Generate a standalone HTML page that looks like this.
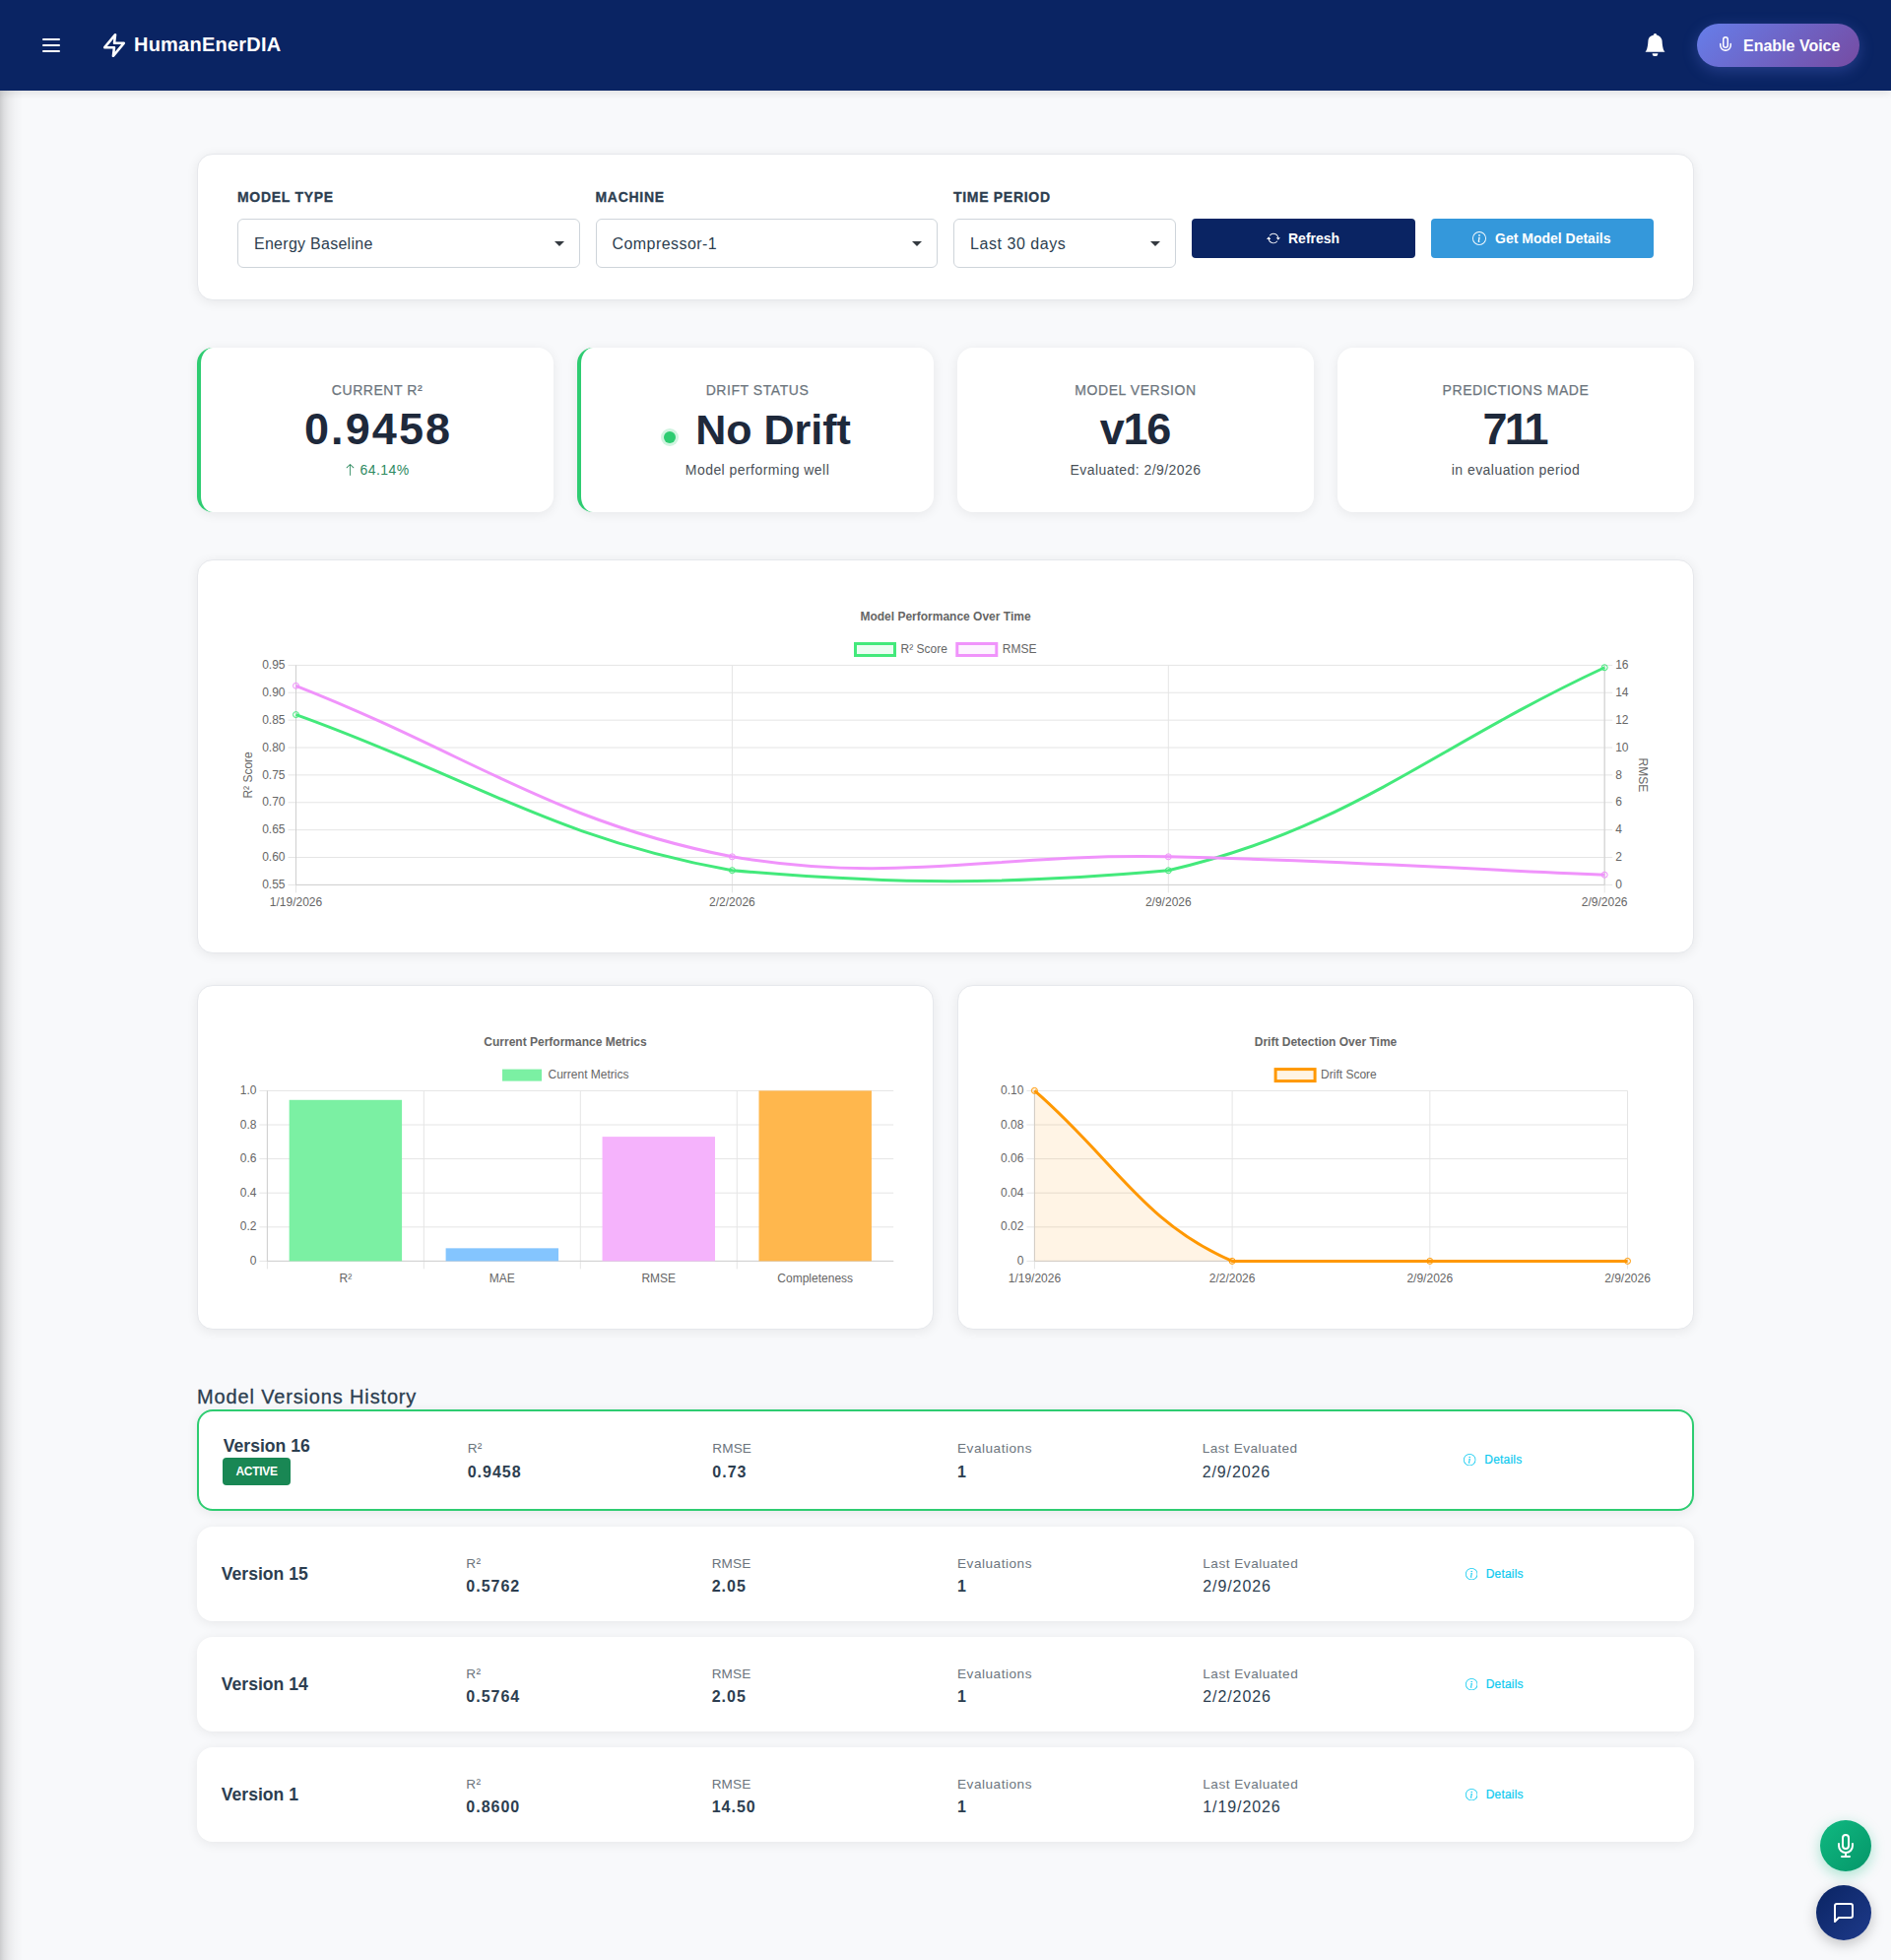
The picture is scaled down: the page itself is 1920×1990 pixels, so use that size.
<!DOCTYPE html>
<html lang="en">
<head>
<meta charset="utf-8">
<title>HumanEnerDIA - Model Performance</title>
<style>
*{box-sizing:border-box;margin:0;padding:0}
html,body{width:1920px;height:1990px;overflow:hidden}
body{position:relative;background:#f8f9fb;font-family:"Liberation Sans",Arial,sans-serif;color:#2c3e50;-webkit-font-smoothing:antialiased}
.abs{position:absolute}
.nw{white-space:nowrap}
/* header */
header{position:absolute;left:0;top:0;width:1920px;height:92px;background:#0a2463;box-shadow:0 2px 8px rgba(0,0,0,.11);z-index:5}
.edge{position:absolute;left:0;top:92px;width:24px;height:1898px;background:linear-gradient(90deg,rgba(0,0,0,.18) 0,rgba(0,0,0,.11) 4px,rgba(0,0,0,.06) 9px,rgba(0,0,0,.025) 15px,rgba(0,0,0,0) 23px)}
.burger{position:absolute;left:43px;top:39px;width:18px;height:14px}
.burger i{position:absolute;left:0;width:18px;height:2px;background:#fff;border-radius:1px}
.brand{position:absolute;left:136px;top:29.4px;height:32px;line-height:32px;font-size:20px;font-weight:700;color:#fff;letter-spacing:.22px}
.voice{position:absolute;left:1723px;top:24px;width:165px;height:44px;border-radius:22px;background:linear-gradient(135deg,#667eea 0%,#764ba2 100%);box-shadow:0 4px 15px rgba(102,126,234,.3);color:#fff;font-size:16px;font-weight:600}
.voice span{position:absolute;left:47px;top:.8px;line-height:44px}
/* cards */
.card{position:absolute;background:#fff;border-radius:16px;box-shadow:0 2px 12px rgba(0,0,0,.075)}
.bd{border:1px solid #e6e8ec}
.flabel{position:absolute;top:190px;font-size:14px;font-weight:700;letter-spacing:.7px;line-height:20px;color:#2c3e50;-webkit-text-stroke:.3px #2c3e50}
.sel{position:absolute;top:222px;height:50px;border:1px solid #ced4da;border-radius:6px;background:#fff;font-size:16px;line-height:50px;padding-left:16px;color:#2c3e50;letter-spacing:.27px}
.sel:after{content:"";position:absolute;right:15px;top:22px;border-left:5.5px solid transparent;border-right:5.5px solid transparent;border-top:5.5px solid #343a40}
.btn{position:absolute;top:222px;height:40px;border-radius:4px;color:#fff;font-size:14px;font-weight:600;line-height:40px}
.btn svg{position:absolute;top:13px}
.btn span{position:absolute;top:0}
/* stats */
.stat{top:353px;width:362px;height:167px;text-align:center}
.stat.g{border-left:4px solid #2ecc71}
.stat .l{position:absolute;left:0;right:0;top:32.8px;font-size:14px;line-height:20px;color:#6c757d;letter-spacing:.55px;-webkit-text-stroke:.25px #6c757d}
.stat .v{position:absolute;left:0;right:0;top:55.6px;font-size:43px;line-height:54px;font-weight:700;color:#1e293b}
.stat .s{position:absolute;left:0;right:0;top:114.3px;font-size:14px;line-height:20px;color:#495057;letter-spacing:.45px}
svg.chart{position:absolute;overflow:visible}
/* versions */
.h5{position:absolute;left:200px;top:1402.7px;font-size:20px;line-height:30px;font-weight:400;color:#2c3e50;letter-spacing:.85px;-webkit-text-stroke:.3px #2c3e50}
.row{left:200px;width:1520px;height:96px}
.row.act{border:2px solid #2ecc71;height:103px}
.vn{position:absolute;font-size:17.6px;font-weight:600;line-height:22px;color:#2c3e50}
.ml{position:absolute;font-size:13.6px;line-height:18px;color:#6c757d;letter-spacing:.25px}
.mv{position:absolute;font-size:16px;line-height:20px;font-weight:700;color:#2c3e50;letter-spacing:1px}
.mv.d{font-weight:400;letter-spacing:.9px}
.badge{position:absolute;background:#198754;color:#fff;font-size:12px;font-weight:700;border-radius:4px;text-align:center;letter-spacing:-.3px}
.det{position:absolute;color:#0dcaf0;font-size:12px;line-height:16px;font-weight:400;letter-spacing:.2px;-webkit-text-stroke:.2px #0dcaf0}
.det svg{position:absolute;left:0;top:2px}
.det span{position:absolute;left:21px;top:0}
.fab{position:absolute;border-radius:50%}
</style>
</head>
<body>
<header>
  <div class="burger"><i style="top:0"></i><i style="top:6px"></i><i style="top:12px"></i></div>
  <svg class="abs" style="left:103px;top:33px" width="26" height="26" viewBox="0 0 24 24" fill="none" stroke="#fff" stroke-width="2.35" stroke-linecap="round" stroke-linejoin="round"><polygon points="13 2 3 14 12 14 11 22 21 10 12 10 13 2"/></svg>
  <div class="brand nw">HumanEnerDIA</div>
  <svg class="abs" style="left:1669px;top:33.5px" width="23" height="23" viewBox="0 0 16 16" fill="#fff"><path d="M8 16a2 2 0 0 0 2-2H6a2 2 0 0 0 2 2zm.995-14.901a1 1 0 1 0-1.99 0A5.002 5.002 0 0 0 3 6c0 1.098-.5 6-2 7h14c-1.5-1-2-5.902-2-7 0-2.42-1.72-4.44-4.005-4.901z"/></svg>
  <div class="voice nw">
    <svg class="abs" style="left:19.5px;top:13px" width="18" height="15" viewBox="0 0 24 20" fill="none" stroke="#fff" stroke-width="2" stroke-linecap="round" stroke-linejoin="round"><path d="M12 1a3 3 0 0 0-3 3v8a3 3 0 0 0 6 0V4a3 3 0 0 0-3-3z"/><path d="M19 10v2a7 7 0 0 1-14 0v-2"/><path d="M12 19v4M8 23h8"/></svg>
    <span>Enable Voice</span>
  </div>
</header>
<div class="edge"></div>

<main>
<section class="card bd" style="left:200px;top:156px;width:1520px;height:149px"></section>
<div class="flabel nw" style="left:241px">MODEL TYPE</div>
<div class="flabel nw" style="left:604.5px">MACHINE</div>
<div class="flabel nw" style="left:968px">TIME PERIOD</div>
<div class="sel nw" style="left:241px;width:347.5px">Energy Baseline</div>
<div class="sel nw" style="left:604.5px;width:347.5px;letter-spacing:.44px">Compressor-1</div>
<div class="sel nw" style="left:968px;width:226px;letter-spacing:.55px">Last 30 days</div>
<div class="btn nw" style="left:1210px;width:227px;background:#0a2463">
  <svg style="left:76px" width="14" height="14" viewBox="0 0 16 16" fill="#fff"><path d="M11.534 7h3.932a.25.25 0 0 1 .192.41l-1.966 2.36a.25.25 0 0 1-.384 0l-1.966-2.36a.25.25 0 0 1 .192-.41zm-11 2h3.932a.25.25 0 0 0 .192-.41L2.692 6.23a.25.25 0 0 0-.384 0L.342 8.59A.25.25 0 0 0 .534 9z"/><path fill-rule="evenodd" d="M8 3c-1.552 0-2.94.707-3.857 1.818a.5.5 0 1 1-.771-.636A6.002 6.002 0 0 1 13.917 7H12.9A5.002 5.002 0 0 0 8 3zM3.1 9a5.002 5.002 0 0 0 8.757 2.182.5.5 0 1 1 .771.636A6.002 6.002 0 0 1 2.083 9H3.1z"/></svg>
  <span style="left:98px">Refresh</span>
</div>
<div class="btn nw" style="left:1453px;width:226px;background:#3498db">
  <svg style="left:42px" width="14" height="14" viewBox="0 0 16 16" fill="#fff"><path d="M8 15A7 7 0 1 1 8 1a7 7 0 0 1 0 14zm0 1A8 8 0 1 0 8 0a8 8 0 0 0 0 16z"/><path d="m8.93 6.588-2.29.287-.082.38.45.083c.294.07.352.176.288.469l-.738 3.468c-.194.897.105 1.319.808 1.319.545 0 1.178-.252 1.465-.598l.088-.416c-.2.176-.492.246-.686.246-.275 0-.375-.193-.304-.533L8.93 6.588zM9 4.500a1 1 0 1 1-2 0 1 1 0 0 1 2 0z"/></svg>
  <span style="left:65px">Get Model Details</span>
</div>

<section class="card stat g" style="left:200px">
  <div class="l nw">CURRENT R²</div>
  <div class="v nw" style="font-size:45px;letter-spacing:2.1px;text-indent:2.1px">0.9458</div>
  <div class="s nw" style="color:#2d8a5f"><svg style="vertical-align:-1px;margin-right:4px" width="11" height="12" viewBox="2.5 1 11 14" fill="#2d8a5f"><path fill-rule="evenodd" d="M8 15a.5.5 0 0 0 .5-.5V2.707l3.146 3.147a.5.5 0 0 0 .708-.708l-4-4a.5.5 0 0 0-.708 0l-4 4a.5.5 0 1 0 .708.708L7.5 2.707V14.5a.5.5 0 0 0 .5.5z"/></svg>64.14%</div>
</section>
<section class="card stat g" style="left:586px">
  <div class="l nw">DRIFT STATUS</div>
  <div class="v nw"><i style="display:inline-block;width:12px;height:12px;border-radius:50%;background:#2ecc71;box-shadow:0 0 0 3px rgba(46,204,113,.22);margin-right:20px;vertical-align:1px"></i>No Drift</div>
  <div class="s nw">Model performing well</div>
</section>
<section class="card stat" style="left:972px">
  <div class="l nw">MODEL VERSION</div>
  <div class="v nw" style="font-size:45px;letter-spacing:-1.2px;text-indent:-1.2px">v16</div>
  <div class="s nw">Evaluated: 2/9/2026</div>
</section>
<section class="card stat" style="left:1358px">
  <div class="l nw">PREDICTIONS MADE</div>
  <div class="v nw" style="font-size:45px;letter-spacing:-2.7px;text-indent:-2.7px">711</div>
  <div class="s nw">in evaluation period</div>
</section>

<section class="card bd" style="left:200px;top:568px;width:1520px;height:400px"></section>
<section class="card bd" style="left:200px;top:1000px;width:748px;height:350px"></section>
<section class="card bd" style="left:972px;top:1000px;width:748px;height:350px"></section>
<svg class="chart" style="left:241px;top:608px" width="1438" height="320" viewBox="241 608 1438 320">
<g font-family="Liberation Sans, Arial, sans-serif" font-size="12" fill="#666">
<text x="960.00" y="630.00" text-anchor="middle" font-weight="bold" >Model Performance Over Time</text>
<rect x="868.5" y="653.5" width="40" height="12" fill="rgba(67,233,123,0.1)" stroke="#43e97b" stroke-width="3"/>
<text x="914.50" y="662.90" text-anchor="start" font-weight="normal" >R² Score</text>
<rect x="971.8" y="653.5" width="40" height="12" fill="rgba(240,147,251,0.1)" stroke="#f093fb" stroke-width="3"/>
<text x="1017.80" y="662.90" text-anchor="start" font-weight="normal" >RMSE</text>
<line x1="292.50" x2="1637.20" y1="898.40" y2="898.40" stroke="#e5e5e5" stroke-width="1"/>
<text x="289.50" y="902.00" text-anchor="end" font-weight="normal" >0.55</text>
<text x="1640.20" y="902.00" text-anchor="start" font-weight="normal" >0</text>
<line x1="292.50" x2="1637.20" y1="870.52" y2="870.52" stroke="#e5e5e5" stroke-width="1"/>
<text x="289.50" y="874.12" text-anchor="end" font-weight="normal" >0.60</text>
<text x="1640.20" y="874.12" text-anchor="start" font-weight="normal" >2</text>
<line x1="292.50" x2="1637.20" y1="842.65" y2="842.65" stroke="#e5e5e5" stroke-width="1"/>
<text x="289.50" y="846.25" text-anchor="end" font-weight="normal" >0.65</text>
<text x="1640.20" y="846.25" text-anchor="start" font-weight="normal" >4</text>
<line x1="292.50" x2="1637.20" y1="814.77" y2="814.77" stroke="#e5e5e5" stroke-width="1"/>
<text x="289.50" y="818.38" text-anchor="end" font-weight="normal" >0.70</text>
<text x="1640.20" y="818.38" text-anchor="start" font-weight="normal" >6</text>
<line x1="292.50" x2="1637.20" y1="786.90" y2="786.90" stroke="#e5e5e5" stroke-width="1"/>
<text x="289.50" y="790.50" text-anchor="end" font-weight="normal" >0.75</text>
<text x="1640.20" y="790.50" text-anchor="start" font-weight="normal" >8</text>
<line x1="292.50" x2="1637.20" y1="759.02" y2="759.02" stroke="#e5e5e5" stroke-width="1"/>
<text x="289.50" y="762.62" text-anchor="end" font-weight="normal" >0.80</text>
<text x="1640.20" y="762.62" text-anchor="start" font-weight="normal" >10</text>
<line x1="292.50" x2="1637.20" y1="731.15" y2="731.15" stroke="#e5e5e5" stroke-width="1"/>
<text x="289.50" y="734.75" text-anchor="end" font-weight="normal" >0.85</text>
<text x="1640.20" y="734.75" text-anchor="start" font-weight="normal" >12</text>
<line x1="292.50" x2="1637.20" y1="703.27" y2="703.27" stroke="#e5e5e5" stroke-width="1"/>
<text x="289.50" y="706.88" text-anchor="end" font-weight="normal" >0.90</text>
<text x="1640.20" y="706.88" text-anchor="start" font-weight="normal" >14</text>
<line x1="292.50" x2="1637.20" y1="675.40" y2="675.40" stroke="#e5e5e5" stroke-width="1"/>
<text x="289.50" y="679.00" text-anchor="end" font-weight="normal" >0.95</text>
<text x="1640.20" y="679.00" text-anchor="start" font-weight="normal" >16</text>
<line x1="300.50" x2="300.50" y1="675.40" y2="906.40" stroke="#e5e5e5" stroke-width="1"/>
<text x="300.50" y="920.00" text-anchor="middle" font-weight="normal" >1/19/2026</text>
<line x1="743.40" x2="743.40" y1="675.40" y2="906.40" stroke="#e5e5e5" stroke-width="1"/>
<text x="743.40" y="920.00" text-anchor="middle" font-weight="normal" >2/2/2026</text>
<line x1="1186.30" x2="1186.30" y1="675.40" y2="906.40" stroke="#e5e5e5" stroke-width="1"/>
<text x="1186.30" y="920.00" text-anchor="middle" font-weight="normal" >2/9/2026</text>
<line x1="1629.20" x2="1629.20" y1="675.40" y2="906.40" stroke="#e5e5e5" stroke-width="1"/>
<text x="1629.20" y="920.00" text-anchor="middle" font-weight="normal" >2/9/2026</text>
<line x1="300.50" x2="300.50" y1="675.40" y2="898.40" stroke="#cfcfcf" stroke-width="1"/>
<line x1="1629.20" x2="1629.20" y1="675.40" y2="898.40" stroke="#cfcfcf" stroke-width="1"/>
<line x1="300.50" x2="1629.20" y1="898.40" y2="898.40" stroke="#cfcfcf" stroke-width="1"/>
<text transform="translate(255.8,786.9) rotate(-90)" text-anchor="middle">R² Score</text>
<text transform="translate(1664.2,786.9) rotate(90)" text-anchor="middle">RMSE</text>
</g>
<path d="M300.50,725.58 C477.66,788.82 560.93,851.09 743.40,883.68 C915.25,898.40 1017.81,898.40 1186.30,883.79 C1372.13,840.59 1452.04,760.16 1629.20,677.74" fill="none" stroke="#43e97b" stroke-width="3"/>
<path d="M300.50,696.31 C477.66,765.72 559.92,833.89 743.40,869.83 C914.24,898.40 1009.22,866.15 1186.30,869.83 C1363.54,873.51 1452.04,880.87 1629.20,888.23" fill="none" stroke="#f093fb" stroke-width="3"/>
<circle cx="300.50" cy="725.58" r="3" fill="rgba(67,233,123,0.1)" stroke="#43e97b" stroke-width="1"/>
<circle cx="743.40" cy="883.68" r="3" fill="rgba(67,233,123,0.1)" stroke="#43e97b" stroke-width="1"/>
<circle cx="1186.30" cy="883.79" r="3" fill="rgba(67,233,123,0.1)" stroke="#43e97b" stroke-width="1"/>
<circle cx="1629.20" cy="677.74" r="3" fill="rgba(67,233,123,0.1)" stroke="#43e97b" stroke-width="1"/>
<circle cx="300.50" cy="696.31" r="3" fill="rgba(240,147,251,0.1)" stroke="#f093fb" stroke-width="1"/>
<circle cx="743.40" cy="869.83" r="3" fill="rgba(240,147,251,0.1)" stroke="#f093fb" stroke-width="1"/>
<circle cx="1186.30" cy="869.83" r="3" fill="rgba(240,147,251,0.1)" stroke="#f093fb" stroke-width="1"/>
<circle cx="1629.20" cy="888.23" r="3" fill="rgba(240,147,251,0.1)" stroke="#f093fb" stroke-width="1"/>
</svg>
<svg class="chart" style="left:241px;top:1040px" width="667" height="310" viewBox="241 1040 667 310">
<g font-family="Liberation Sans, Arial, sans-serif" font-size="12" fill="#666">
<text x="574.00" y="1062.30" text-anchor="middle" font-weight="bold" >Current Performance Metrics</text>
<rect x="510" y="1085.6" width="40" height="12" fill="rgb(123,240,163)"/>
<text x="556.50" y="1095.10" text-anchor="start" font-weight="normal" >Current Metrics</text>
<line x1="263.40" x2="907.20" y1="1280.40" y2="1280.40" stroke="#e5e5e5" stroke-width="1"/>
<text x="260.40" y="1284.00" text-anchor="end" font-weight="normal" >0</text>
<line x1="263.40" x2="907.20" y1="1245.80" y2="1245.80" stroke="#e5e5e5" stroke-width="1"/>
<text x="260.40" y="1249.40" text-anchor="end" font-weight="normal" >0.2</text>
<line x1="263.40" x2="907.20" y1="1211.20" y2="1211.20" stroke="#e5e5e5" stroke-width="1"/>
<text x="260.40" y="1214.80" text-anchor="end" font-weight="normal" >0.4</text>
<line x1="263.40" x2="907.20" y1="1176.60" y2="1176.60" stroke="#e5e5e5" stroke-width="1"/>
<text x="260.40" y="1180.20" text-anchor="end" font-weight="normal" >0.6</text>
<line x1="263.40" x2="907.20" y1="1142.00" y2="1142.00" stroke="#e5e5e5" stroke-width="1"/>
<text x="260.40" y="1145.60" text-anchor="end" font-weight="normal" >0.8</text>
<line x1="263.40" x2="907.20" y1="1107.40" y2="1107.40" stroke="#e5e5e5" stroke-width="1"/>
<text x="260.40" y="1111.00" text-anchor="end" font-weight="normal" >1.0</text>
<line x1="271.40" x2="271.40" y1="1107.40" y2="1288.40" stroke="#e5e5e5" stroke-width="1"/>
<line x1="430.35" x2="430.35" y1="1107.40" y2="1288.40" stroke="#e5e5e5" stroke-width="1"/>
<line x1="589.30" x2="589.30" y1="1107.40" y2="1288.40" stroke="#e5e5e5" stroke-width="1"/>
<line x1="748.25" x2="748.25" y1="1107.40" y2="1288.40" stroke="#e5e5e5" stroke-width="1"/>
<line x1="271.40" x2="271.40" y1="1107.40" y2="1280.40" stroke="#cfcfcf" stroke-width="1"/>
<line x1="271.40" x2="907.20" y1="1280.40" y2="1280.40" stroke="#cfcfcf" stroke-width="1"/>
<rect x="293.65" y="1116.78" width="114.44" height="163.62" fill="rgb(123,240,163)"/>
<text x="350.88" y="1302.00" text-anchor="middle" font-weight="normal" >R²</text>
<rect x="452.60" y="1267.34" width="114.44" height="13.06" fill="rgb(132,197,254)"/>
<text x="509.82" y="1302.00" text-anchor="middle" font-weight="normal" >MAE</text>
<rect x="611.55" y="1154.11" width="114.44" height="126.29" fill="rgb(245,179,252)"/>
<text x="668.78" y="1302.00" text-anchor="middle" font-weight="normal" >RMSE</text>
<rect x="770.50" y="1107.40" width="114.44" height="173.00" fill="rgb(255,183,77)"/>
<text x="827.73" y="1302.00" text-anchor="middle" font-weight="normal" >Completeness</text>
</g></svg>
<svg class="chart" style="left:1013px;top:1040px" width="667" height="310" viewBox="1013 1040 667 310">
<g font-family="Liberation Sans, Arial, sans-serif" font-size="12" fill="#666">
<text x="1346.00" y="1062.30" text-anchor="middle" font-weight="bold" >Drift Detection Over Time</text>
<rect x="1295.1" y="1085.6" width="40" height="12" fill="rgba(255,152,0,0.1)" stroke="#ff9800" stroke-width="3"/>
<text x="1341.10" y="1095.10" text-anchor="start" font-weight="normal" >Drift Score</text>
<line x1="1042.40" x2="1652.50" y1="1280.40" y2="1280.40" stroke="#e5e5e5" stroke-width="1"/>
<text x="1039.40" y="1284.00" text-anchor="end" font-weight="normal" >0</text>
<line x1="1042.40" x2="1652.50" y1="1245.80" y2="1245.80" stroke="#e5e5e5" stroke-width="1"/>
<text x="1039.40" y="1249.40" text-anchor="end" font-weight="normal" >0.02</text>
<line x1="1042.40" x2="1652.50" y1="1211.20" y2="1211.20" stroke="#e5e5e5" stroke-width="1"/>
<text x="1039.40" y="1214.80" text-anchor="end" font-weight="normal" >0.04</text>
<line x1="1042.40" x2="1652.50" y1="1176.60" y2="1176.60" stroke="#e5e5e5" stroke-width="1"/>
<text x="1039.40" y="1180.20" text-anchor="end" font-weight="normal" >0.06</text>
<line x1="1042.40" x2="1652.50" y1="1142.00" y2="1142.00" stroke="#e5e5e5" stroke-width="1"/>
<text x="1039.40" y="1145.60" text-anchor="end" font-weight="normal" >0.08</text>
<line x1="1042.40" x2="1652.50" y1="1107.40" y2="1107.40" stroke="#e5e5e5" stroke-width="1"/>
<text x="1039.40" y="1111.00" text-anchor="end" font-weight="normal" >0.10</text>
<line x1="1050.40" x2="1050.40" y1="1107.40" y2="1288.40" stroke="#e5e5e5" stroke-width="1"/>
<text x="1050.40" y="1302.00" text-anchor="middle" font-weight="normal" >1/19/2026</text>
<line x1="1251.10" x2="1251.10" y1="1107.40" y2="1288.40" stroke="#e5e5e5" stroke-width="1"/>
<text x="1251.10" y="1302.00" text-anchor="middle" font-weight="normal" >2/2/2026</text>
<line x1="1451.80" x2="1451.80" y1="1107.40" y2="1288.40" stroke="#e5e5e5" stroke-width="1"/>
<text x="1451.80" y="1302.00" text-anchor="middle" font-weight="normal" >2/9/2026</text>
<line x1="1652.50" x2="1652.50" y1="1107.40" y2="1288.40" stroke="#e5e5e5" stroke-width="1"/>
<text x="1652.50" y="1302.00" text-anchor="middle" font-weight="normal" >2/9/2026</text>
<line x1="1050.40" x2="1050.40" y1="1107.40" y2="1280.40" stroke="#cfcfcf" stroke-width="1"/>
<line x1="1050.40" x2="1652.50" y1="1280.40" y2="1280.40" stroke="#cfcfcf" stroke-width="1"/>
</g>
<path d="M1050.40,1107.40 C1130.68,1176.60 1159.74,1241.02 1251.10,1280.40 C1320.30,1280.40 1371.52,1280.40 1451.80,1280.40 C1532.08,1280.40 1572.22,1280.40 1652.50,1280.40 L1652.50,1280.40 L1050.40,1280.40 Z" fill="rgba(255,152,0,0.1)"/>
<path d="M1050.40,1107.40 C1130.68,1176.60 1159.74,1241.02 1251.10,1280.40 C1320.30,1280.40 1371.52,1280.40 1451.80,1280.40 C1532.08,1280.40 1572.22,1280.40 1652.50,1280.40" fill="none" stroke="#ff9800" stroke-width="3"/>
<circle cx="1050.40" cy="1107.40" r="3" fill="rgba(255,152,0,0.1)" stroke="#ff9800" stroke-width="1"/>
<circle cx="1251.10" cy="1280.40" r="3" fill="rgba(255,152,0,0.1)" stroke="#ff9800" stroke-width="1"/>
<circle cx="1451.80" cy="1280.40" r="3" fill="rgba(255,152,0,0.1)" stroke="#ff9800" stroke-width="1"/>
<circle cx="1652.50" cy="1280.40" r="3" fill="rgba(255,152,0,0.1)" stroke="#ff9800" stroke-width="1"/>
</svg>
<h5 class="h5 nw">Model Versions History</h5>
<section class="card row act" style="top:1431px">
<div class="vn nw" style="left:24.80px;top:23.80px">Version 16</div>
<div class="badge nw" style="left:24.20px;top:47.20px;width:68.7px;height:27.5px;line-height:29.5px">ACTIVE</div>
<div class="ml nw" style="left:272.67px;top:29.40px;letter-spacing:0.3px">R²</div>
<div class="mv nw" style="left:272.67px;top:51.90px">0.9458</div>
<div class="ml nw" style="left:521.34px;top:29.40px;letter-spacing:0.1px">RMSE</div>
<div class="mv nw" style="left:521.34px;top:51.90px">0.73</div>
<div class="ml nw" style="left:770.01px;top:29.40px;letter-spacing:0.52px">Evaluations</div>
<div class="mv nw" style="left:770.01px;top:51.90px">1</div>
<div class="ml nw" style="left:1018.68px;top:29.40px;letter-spacing:0.5px">Last Evaluated</div>
<div class="mv d nw" style="left:1018.68px;top:51.90px">2/9/2026</div>
<div class="det nw" style="left:1284.35px;top:40.50px;width:70px;height:16px"><svg width="12.4" height="12.4" viewBox="0 0 16 16" fill="#0dcaf0"><path d="M8 15A7 7 0 1 1 8 1a7 7 0 0 1 0 14zm0 1A8 8 0 1 0 8 0a8 8 0 0 0 0 16z"/><path d="m8.930 6.588-2.290.287-.082.380.450.083c.294.070.352.176.288.469l-.738 3.468c-.194.897.105 1.319.808 1.319.545 0 1.178-.252 1.465-.598l.088-.416c-.200.176-.492.246-.686.246-.275 0-.375-.193-.304-.533L8.930 6.588zM9 4.500a1 1 0 1 1-2 0 1 1 0 0 1 2 0z"/></svg><span>Details</span></div>
</section>
<section class="card row" style="top:1550px">
<div class="vn nw" style="left:24.80px;top:36.90px">Version 15</div>
<div class="ml nw" style="left:273.33px;top:28.80px;letter-spacing:0.3px">R²</div>
<div class="mv nw" style="left:273.33px;top:51.00px">0.5762</div>
<div class="ml nw" style="left:522.66px;top:28.80px;letter-spacing:0.1px">RMSE</div>
<div class="mv nw" style="left:522.66px;top:51.00px">2.05</div>
<div class="ml nw" style="left:771.99px;top:28.80px;letter-spacing:0.52px">Evaluations</div>
<div class="mv nw" style="left:771.99px;top:51.00px">1</div>
<div class="ml nw" style="left:1021.32px;top:28.80px;letter-spacing:0.5px">Last Evaluated</div>
<div class="mv d nw" style="left:1021.32px;top:51.00px">2/9/2026</div>
<div class="det nw" style="left:1287.65px;top:40.10px;width:70px;height:16px"><svg width="12.4" height="12.4" viewBox="0 0 16 16" fill="#0dcaf0"><path d="M8 15A7 7 0 1 1 8 1a7 7 0 0 1 0 14zm0 1A8 8 0 1 0 8 0a8 8 0 0 0 0 16z"/><path d="m8.930 6.588-2.290.287-.082.380.450.083c.294.070.352.176.288.469l-.738 3.468c-.194.897.105 1.319.808 1.319.545 0 1.178-.252 1.465-.598l.088-.416c-.200.176-.492.246-.686.246-.275 0-.375-.193-.304-.533L8.930 6.588zM9 4.500a1 1 0 1 1-2 0 1 1 0 0 1 2 0z"/></svg><span>Details</span></div>
</section>
<section class="card row" style="top:1662px">
<div class="vn nw" style="left:24.80px;top:36.90px">Version 14</div>
<div class="ml nw" style="left:273.33px;top:28.80px;letter-spacing:0.3px">R²</div>
<div class="mv nw" style="left:273.33px;top:51.00px">0.5764</div>
<div class="ml nw" style="left:522.66px;top:28.80px;letter-spacing:0.1px">RMSE</div>
<div class="mv nw" style="left:522.66px;top:51.00px">2.05</div>
<div class="ml nw" style="left:771.99px;top:28.80px;letter-spacing:0.52px">Evaluations</div>
<div class="mv nw" style="left:771.99px;top:51.00px">1</div>
<div class="ml nw" style="left:1021.32px;top:28.80px;letter-spacing:0.5px">Last Evaluated</div>
<div class="mv d nw" style="left:1021.32px;top:51.00px">2/2/2026</div>
<div class="det nw" style="left:1287.65px;top:40.10px;width:70px;height:16px"><svg width="12.4" height="12.4" viewBox="0 0 16 16" fill="#0dcaf0"><path d="M8 15A7 7 0 1 1 8 1a7 7 0 0 1 0 14zm0 1A8 8 0 1 0 8 0a8 8 0 0 0 0 16z"/><path d="m8.930 6.588-2.290.287-.082.380.450.083c.294.070.352.176.288.469l-.738 3.468c-.194.897.105 1.319.808 1.319.545 0 1.178-.252 1.465-.598l.088-.416c-.200.176-.492.246-.686.246-.275 0-.375-.193-.304-.533L8.930 6.588zM9 4.500a1 1 0 1 1-2 0 1 1 0 0 1 2 0z"/></svg><span>Details</span></div>
</section>
<section class="card row" style="top:1774px">
<div class="vn nw" style="left:24.80px;top:36.90px">Version 1</div>
<div class="ml nw" style="left:273.33px;top:28.80px;letter-spacing:0.3px">R²</div>
<div class="mv nw" style="left:273.33px;top:51.00px">0.8600</div>
<div class="ml nw" style="left:522.66px;top:28.80px;letter-spacing:0.1px">RMSE</div>
<div class="mv nw" style="left:522.66px;top:51.00px">14.50</div>
<div class="ml nw" style="left:771.99px;top:28.80px;letter-spacing:0.52px">Evaluations</div>
<div class="mv nw" style="left:771.99px;top:51.00px">1</div>
<div class="ml nw" style="left:1021.32px;top:28.80px;letter-spacing:0.5px">Last Evaluated</div>
<div class="mv d nw" style="left:1021.32px;top:51.00px">1/19/2026</div>
<div class="det nw" style="left:1287.65px;top:40.10px;width:70px;height:16px"><svg width="12.4" height="12.4" viewBox="0 0 16 16" fill="#0dcaf0"><path d="M8 15A7 7 0 1 1 8 1a7 7 0 0 1 0 14zm0 1A8 8 0 1 0 8 0a8 8 0 0 0 0 16z"/><path d="m8.930 6.588-2.290.287-.082.380.450.083c.294.070.352.176.288.469l-.738 3.468c-.194.897.105 1.319.808 1.319.545 0 1.178-.252 1.465-.598l.088-.416c-.200.176-.492.246-.686.246-.275 0-.375-.193-.304-.533L8.930 6.588zM9 4.500a1 1 0 1 1-2 0 1 1 0 0 1 2 0z"/></svg><span>Details</span></div>
</section>
<div class="fab" style="left:1848px;top:1848px;width:52px;height:52px;background:linear-gradient(135deg,#10b981,#059669);box-shadow:0 4px 14px rgba(16,185,129,.35)">
<svg class="abs" style="left:14px;top:14px" width="24" height="24" viewBox="0 0 24 24" fill="none" stroke="#fff" stroke-width="2" stroke-linecap="round" stroke-linejoin="round"><path d="M12 1a3 3 0 0 0-3 3v8a3 3 0 0 0 6 0V4a3 3 0 0 0-3-3z"/><path d="M19 10v2a7 7 0 0 1-14 0v-2"/><path d="M12 19v4M8 23h8"/></svg>
</div>
<div class="fab" style="left:1844px;top:1914px;width:56px;height:56px;background:linear-gradient(135deg,#0a2463,#1e3a8a);box-shadow:0 4px 14px rgba(0,0,0,.22)">
<svg class="abs" style="left:16px;top:16.2px" width="24" height="24" viewBox="0 0 24 24" fill="none" stroke="#fff" stroke-width="2" stroke-linecap="round" stroke-linejoin="round"><path d="M21 15a2 2 0 0 1-2 2H7l-4 4V5a2 2 0 0 1 2-2h14a2 2 0 0 1 2 2z"/></svg>
</div>
</main>
</body>
</html>
